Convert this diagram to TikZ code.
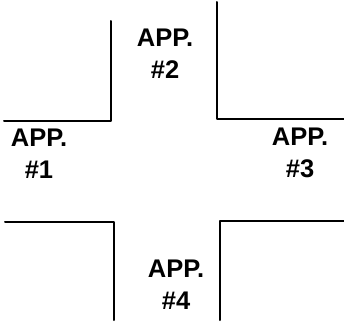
\documentclass[tikz,border=0pt]{standalone}
\usepackage{fontspec}
\setmainfont{Liberation Sans}
\begin{document}
\begin{tikzpicture}[x=1pt, y=-1pt, line join=round, line cap=round, line width=2pt,
		applabel/.style={align=center, inner sep=0pt, font=\bfseries\fontsize{25.5}{32}\selectfont}]
			\useasboundingbox (0,0) rectangle (344,324);
			% Góc trên
			\coordinate (A1) at (4,121);
			\coordinate (A2) at (111,121);
			\coordinate (A3) at (111,21);
			\coordinate (B1) at (217,2);
			\coordinate (B2) at (217,119);
			\coordinate (B3) at (344,119);
			\draw (A1)--(A2)--(A3);
			\draw (B1)--(B2)--(B3);
			% Góc dưới
			\coordinate (C1) at (5,222);
			\coordinate (C2) at (114,222);
			\coordinate (C3) at (114,320);
			\coordinate (D1) at (344,221);
			\coordinate (D2) at (220,221);
			\coordinate (D3) at (220,320);
			\draw (C1)--(C2)--(C3);
			\draw (D1)--(D2)--(D3);
			% Nhãn
			\node[applabel] (app1) at (39,154) {APP.\\\#1};
			\node[applabel] (app2) at (165,54) {APP.\\\#2};
			\node[applabel] (app3) at (300,153) {APP.\\\#3};
			\node[applabel] (app4) at (176,285) {APP.\\\#4};
		\end{tikzpicture}
\end{document}
